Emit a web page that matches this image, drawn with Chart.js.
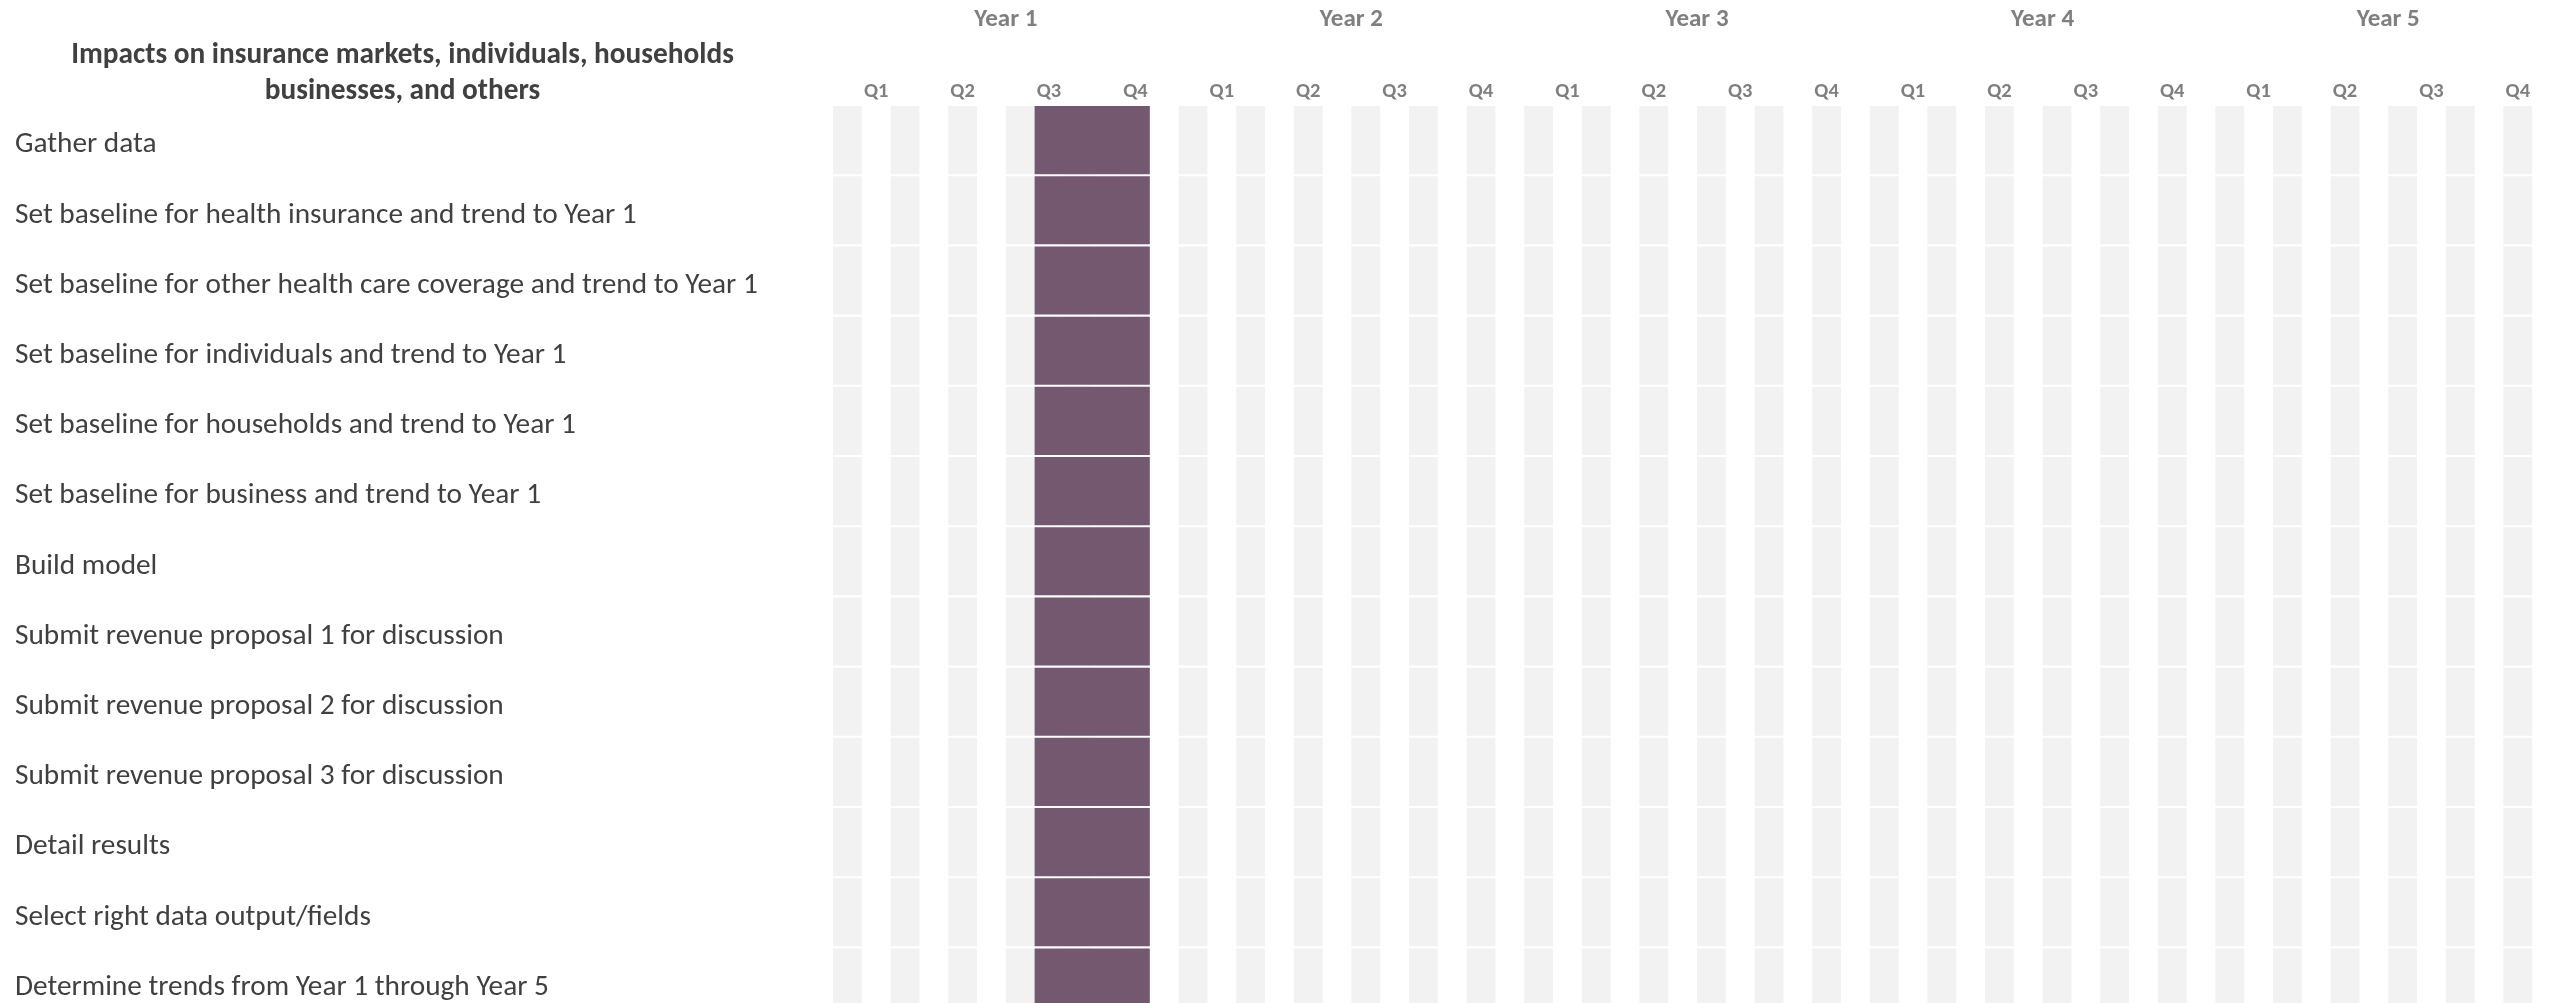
<!DOCTYPE html>
<html>
<head>
<meta charset="utf-8">
<script src="https://cdn.jsdelivr.net/npm/chart.js@4.4.1/dist/chart.umd.min.js"></script>
<style>
  html, body { margin: 0; padding: 0; background: #fff; overflow: hidden; }
  #wrap { position: relative; width: 2561px; height: 1024px; }
  #titulo {
    position: absolute; left: 0; top: 35px; width: 805px;
    text-align: center; line-height: 36px; color: #404040;
    font-weight: bold; font-size: 29.3px;
    font-family: Carlito, "Liberation Sans Narrow", "DejaVu Sans Condensed", sans-serif;
  }
</style>
</head>
<body>
<div id="wrap">
  <canvas id="grafica"></canvas>
  <div id="titulo">Impacts on insurance markets, individuals, households<br>businesses, and others</div>
</div>
<script type="text/javascript">

    // Tareas (filas)
    var tareas = [
        "Gather data",
        "Set baseline for health insurance and trend to Year 1",
        "Set baseline for other health care coverage and trend to Year 1",
        "Set baseline for individuals and trend to Year 1",
        "Set baseline for households and trend to Year 1",
        "Set baseline for business and trend to Year 1",
        "Build model",
        "Submit revenue proposal 1 for discussion",
        "Submit revenue proposal 2 for discussion",
        "Submit revenue proposal 3 for discussion",
        "Detail results",
        "Select right data output/fields",
        "Determine trends from Year 1 through Year 5"
    ];
    // mes de inicio / fin de cada tarea (0 = inicio Year 1)
    var inicioMes = [7, 7, 7, 7, 7, 7, 7, 7, 7, 7, 7, 7, 7];
    var finMes    = [11, 11, 11, 11, 11, 11, 11, 11, 11, 11, 11, 11, 11];
    // meses con franja gris de fondo
    var mesesSombreados = [0, 2, 4, 6, 8, 10, 12, 14, 16, 18, 20, 22, 24, 26, 28,
                           30, 32, 34, 36, 38, 40, 42, 44, 46, 48, 50, 52, 54, 56, 58];
    var trimestres = ["Q1", "Q2", "Q3", "Q4"];
    var anios = ["Year 1", "Year 2", "Year 3", "Year 4", "Year 5"];

    var fuente = 'Carlito, "Liberation Sans Narrow", "DejaVu Sans Condensed", sans-serif';
    var morado = "#745870";
    var gris = "#f2f2f2";

    var datasets = [{
        label: "Tareas",
        data: tareas.map((t, i) => [inicioMes[i], finMes[i]]),
        backgroundColor: morado,
        grouped: false,
        barPercentage: 1,
        categoryPercentage: 0.97,
        borderWidth: 0
    }];
    mesesSombreados.forEach(m => {
        datasets.push({
            label: "fondo " + m,
            data: tareas.map(() => [m, m + 1]),
            backgroundColor: gris,
            grouped: false,
            barPercentage: 1,
            categoryPercentage: 0.97,
            borderWidth: 0
        });
    });

    var canvas = document.getElementById('grafica');
    var context = canvas.getContext('2d');

    window.gantt = new Chart(context, {
        type: "bar",
        data: { labels: tareas, datasets: datasets },
        options: {
            indexAxis: "y",
            responsive: true,
            maintainAspectRatio: false,
            animation: false,
            layout: { padding: { left: 15, right: 0, top: 0, bottom: 6.4 } },
            plugins: {
                legend: { display: false },
                tooltip: { enabled: false },
                title: { display: false }
            },
            scales: {
                x: {
                    type: "linear",
                    position: "top",
                    min: 0,
                    max: 60,
                    weight: 0,
                    grid: { display: false, drawTicks: false },
                    border: { display: false },
                    afterBuildTicks: scale => {
                        let ticks = [];
                        anios.forEach((a, yi) => trimestres.forEach((q, qi) => ticks.push({ value: yi * 12 + qi * 3 + 1.5 })));
                        scale.ticks = ticks;
                    },
                    afterFit: scale => { scale.height = 40 },
                    ticks: {
                        autoSkip: false,
                        maxRotation: 0,
                        padding: 0.7,
                        color: "#7f7f7f",
                        font: { family: fuente, size: 20.5, weight: "bold" },
                        callback: (v, i) => trimestres[i % 4]
                    }
                },
                x2: {
                    type: "linear",
                    position: "top",
                    min: 0,
                    max: 60,
                    weight: 1,
                    grid: { display: false, drawTicks: false },
                    border: { display: false },
                    afterBuildTicks: scale => {
                        scale.ticks = anios.map((a, yi) => ({ value: yi * 12 + 6 }));
                    },
                    afterFit: scale => { scale.height = 65 },
                    ticks: {
                        autoSkip: false,
                        maxRotation: 0,
                        padding: 30.5,
                        color: "#7f7f7f",
                        font: { family: fuente, size: 25, weight: "bold" },
                        callback: (v, i) => anios[i]
                    }
                },
                y: {
                    type: "category",
                    position: "left",
                    grid: { display: false, drawTicks: false },
                    border: { display: false },
                    afterFit: scale => {
                        scale.width = 818;
                        // sin margen extra arriba/abajo por las etiquetas
                        scale.paddingTop = 0;
                        scale.paddingBottom = 0;
                    },
                    ticks: {
                        crossAlign: "far",
                        padding: 10,
                        labelOffset: 5,
                        color: "#404040",
                        font: { family: fuente, size: 29.3 }
                    }
                }
            }
        }
    });

</script>
</body>
</html>
